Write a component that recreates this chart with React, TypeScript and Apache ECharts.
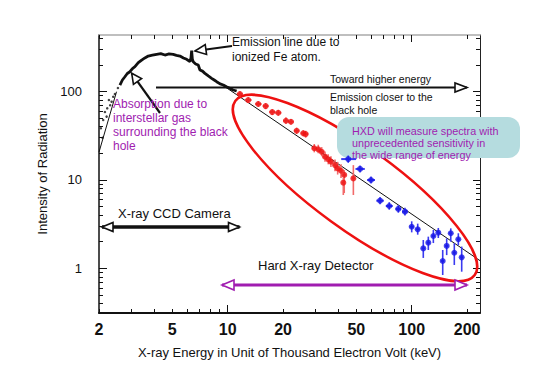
import React, { useEffect, useRef } from 'react';
import * as echarts from 'echarts';

// ---- axis ticks / labels ----
const xLabelValues = [2, 5, 10, 20, 50, 100, 200];
const xMinorTicks = [2, 3, 4, 5, 6, 7, 8, 9, 20, 30, 40, 50, 60, 70, 80, 90, 200];
const xMajorTicks = [10, 100];
const yLabelValues = [1, 10, 100];
const yMinorTicks = [0.4, 0.5, 0.6, 0.7, 0.8, 0.9, 2, 3, 4, 5, 6, 7, 8, 9, 20, 30, 40, 50, 60, 70, 80, 90, 200, 300, 400];
const yMajorTicks = [1, 10, 100];

// ---- CCD spectrum (keV, intensity) ----
const ccdCurve = [
  [2.598, 118.4], [2.68, 135], [2.765, 147], [2.85, 160], [2.944, 167.5], [3.04, 182], [3.135, 190.8],
  [3.27, 212], [3.41, 227], [3.55, 240], [3.703, 252], [3.9, 258], [4.113, 263.5], [4.33, 268],
  [4.563, 258.8], [4.8, 266], [5.062, 263.5], [5.27, 257], [5.506, 252], [5.75, 240], [5.988, 231.4],
  [6.239, 217.3], [6.32, 240], [6.373, 291], [6.43, 232], [6.502, 217], [6.7, 205], [6.92, 199.4],
  [7.07, 175], [7.3, 170], [7.525, 160.6], [7.85, 150], [8.185, 141.1], [8.45, 135], [8.714, 129.1],
  [9.1, 122], [9.465, 118.4], [9.85, 113], [10.29, 108.7], [10.7, 104], [11.19, 101.3],
];
const ccdDots = [
  [2.048, 38.4], [2.09, 30], [2.108, 47.6], [2.154, 58.6], [2.2, 52], [2.217, 64.6], [2.264, 80.1],
  [2.3, 70], [2.342, 76.7], [2.389, 87.3], [2.44, 93.7], [2.534, 109.6],
];
// ---- model lines ----
const modelLeft = [[2, 20.6], [2.49, 99.5]];
const modelPowerLaw = [[9.67, 113.3], [235, 1.22]];

// ---- HXD PIN points: [keV, intensity, xLow, xHigh, yLow, yHigh] ----
const redPoints = [
  [11.66, 93.7, 11.2, 12.1, 87, 101],
  [12.94, 80.1, 12.4, 13.5, 74, 86],
  [14.67, 72.2, 14.1, 15.3, 67, 78],
  [16.09, 68.5, 15.5, 16.7, 63, 74],
  [17.47, 58.6, 16.8, 18.2, 54, 63],
  [18.84, 57.5, 18.1, 19.6, 53, 62],
  [20.74, 46.7, 20.0, 21.5, 43, 51],
  [22.08, 45.5, 21.3, 22.9, 42, 49],
  [23.71, 36.0, 22.9, 24.6, 33, 39],
  [25.76, 33.7, 24.9, 26.7, 31, 36.5],
  [26.54, 33.0, 25.7, 27.4, 30, 36],
  [29.56, 22.8, 28.7, 30.5, 20.5, 25.5],
  [31.07, 22.2, 30.2, 32.0, 20, 25],
  [32.43, 20.8, 31.5, 33.4, 18.5, 23.5],
  [33.8, 18.3, 32.9, 34.7, 16, 21],
  [35.2, 17.1, 34.3, 36.1, 15, 19.5],
  [36.4, 16.1, 35.5, 37.3, 14, 18.5],
  [38.3, 14.7, 37.4, 39.2, 12.5, 17],
  [39.6, 13.5, 38.7, 40.5, 11.5, 16],
  [41.3, 12.7, 40.4, 42.2, 10.5, 15],
  [43.0, 11.4, 42.1, 43.9, 7.1, 12.9],
  [48.2, 10.4, 47.2, 49.2, 6.75, 14.7],
  [42.5, 9.3, 41.6, 43.4, 6.75, 10.5],
];
// ---- HXD GSO points ----
const bluePoints = [
  [45.2, 17.2, 41.4, 49.9, 15.6, 18.9],
  [52.4, 13.3, 49.5, 55.6, 12.1, 14.6],
  [60.1, 9.97, 57.2, 63.2, 9.1, 10.9],
  [67.3, 5.82, 64.2, 70.6, 5.3, 6.4],
  [75.5, 5.07, 72.3, 78.9, 4.6, 5.6],
  [84.6, 4.69, 81.6, 87.7, 4.25, 5.2],
  [91.9, 4.37, 88.7, 95.3, 3.95, 4.85],
  [100, 2.95, 97.5, 102.6, 2.55, 3.4],
  [107.8, 2.76, 105.1, 110.6, 2.4, 3.2],
  [115.6, 1.68, 113.2, 118.1, 1.31, 2.09],
  [123.1, 1.95, 120.6, 125.7, 1.61, 2.28],
  [131.1, 2.32, 128.4, 133.9, 1.93, 2.71],
  [139.5, 2.53, 136.6, 142.5, 2.2, 2.86],
  [147.4, 1.21, 144.6, 150.3, 0.84, 1.61],
  [154.9, 1.79, 151.9, 158.0, 1.41, 2.18],
  [163, 2.49, 159.8, 166.2, 2.0, 2.83],
  [170.4, 1.5, 167.1, 173.8, 1.09, 1.92],
  [179.2, 2.13, 175.7, 182.8, 1.83, 2.49],
  [186.9, 1.33, 183.3, 190.6, 0.915, 1.76],
];

const FONT = '"Liberation Sans", Arial, sans-serif';
const PURPLE = '#a01cb0';
const RED = '#ee1111';
const BLUE = '#1515e6';

function arrowHead(tx: number, ty: number, fx: number, fy: number, len: number, half: number, color: string, lw: number, z: number) {
  const dx = tx - fx, dy = ty - fy;
  const d = Math.sqrt(dx * dx + dy * dy);
  const ux = dx / d, uy = dy / d;
  const bx = tx - ux * len, by = ty - uy * len;
  const px = -uy, py = ux;
  return {
    type: 'polygon', z, silent: true,
    shape: { points: [[tx, ty], [bx + px * half, by + py * half], [bx - px * half, by - py * half]] },
    style: { fill: '#ffffff', stroke: color, lineWidth: lw },
  };
}

function arrow(x1: number, y1: number, x2: number, y2: number, color: string, lw: number, len: number, half: number, both: boolean) {
  const els: any[] = [
    { type: 'line', z: 20, silent: true, shape: { x1, y1, x2, y2 }, style: { stroke: color, lineWidth: lw } },
    arrowHead(x2, y2, x1, y1, len, half, color, 1.6, 21),
  ];
  if (both) els.push(arrowHead(x1, y1, x2, y2, len, half, color, 1.6, 21));
  return els;
}

function txt(text: string, x: number, y: number, size: number, color: string) {
  return {
    type: 'text', z: 22, silent: true, x, y,
    style: { text, fill: color, font: `${size}px ${FONT}`, textAlign: 'left', textVerticalAlign: 'middle' },
  };
}

function errorBars(color: string) {
  return (params: any, api: any) => {
    const x = api.value(0), y = api.value(1);
    const p = api.coord([x, y]);
    const xl = api.coord([api.value(2), y]);
    const xh = api.coord([api.value(3), y]);
    const yl = api.coord([x, api.value(4)]);
    const yh = api.coord([x, api.value(5)]);
    return {
      type: 'group',
      children: [
        { type: 'line', shape: { x1: xl[0], y1: p[1], x2: xh[0], y2: p[1] }, style: { stroke: color, lineWidth: 2 } },
        { type: 'line', shape: { x1: p[0], y1: yl[1], x2: p[0], y2: yh[1] }, style: { stroke: color, lineWidth: 1.6 } },
      ],
    };
  };
}

const X_MIN = 2, X_MAX = 235, Y_MIN = 0.312, Y_MAX = 436;

function xAx(position: string, ticks: number[], len: number, extra: any) {
  return {
    type: 'log', min: X_MIN, max: X_MAX, position,
    axisLine: { show: false },
    axisTick: { show: true, inside: true, length: len, customValues: ticks, lineStyle: { color: '#111', width: 1 } },
    axisLabel: { show: false },
    splitLine: { show: false },
    ...extra,
  };
}
function yAx(position: string, ticks: number[], len: number, extra: any) {
  return {
    type: 'log', min: Y_MIN, max: Y_MAX, position,
    axisLine: { show: false },
    axisTick: { show: true, inside: true, length: len, customValues: ticks, lineStyle: { color: '#111', width: 1 } },
    axisLabel: { show: false },
    splitLine: { show: false },
    ...extra,
  };
}

export default function App() {
  const ref = useRef<HTMLDivElement>(null);
  useEffect(() => {
    if (!ref.current) return;
    const chart = echarts.init(ref.current, null, { renderer: 'svg' });
    const graphic: any[] = [
      {
        type: 'ellipse', z: 15, silent: true, x: 355, y: 188, rotation: -0.628,
        shape: { cx: 0, cy: 0, rx: 148, ry: 41 },
        style: { fill: 'none', stroke: RED, lineWidth: 2.5 },
      },
      {
        type: 'rect', z: 16, silent: true,
        shape: { x: 337, y: 117, width: 183, height: 41, r: 12 },
        style: { fill: '#b5dcdf' },
      },
      ...arrow(156, 87.5, 467, 87.5, '#111', 2, 12, 4.5, false),
      ...arrow(232, 46, 195, 51, '#111', 2, 11, 5, false),
      ...arrow(160, 113, 131.7, 73.3, '#111', 2.2, 10, 5, false),
      ...arrow(102, 227, 239.5, 227, '#111', 3.5, 11, 4.5, true),
      ...arrow(222, 285, 467, 285, PURPLE, 3, 12, 5, true),
      txt('Emission line due to', 232, 42, 12, '#111'),
      txt('ionized Fe atom.', 232, 57, 12, '#111'),
      txt('Toward higher energy', 330, 79, 10.5, '#111'),
      txt('Emission closer to the', 330, 97.3, 10.5, '#111'),
      txt('black hole', 330, 110, 10.5, '#111'),
      txt('Absorption due to', 113, 104, 12, PURPLE),
      txt('interstellar gas', 113, 118.3, 12, PURPLE),
      txt('surrounding the black', 113, 132.3, 12, PURPLE),
      txt('hole', 113, 146, 12, PURPLE),
      txt('HXD will measure spectra with', 352, 130.7, 10.8, PURPLE),
      txt('unprecedented sensitivity in', 352, 143.3, 10.8, PURPLE),
      txt('the wide range of energy', 352, 155, 10.8, PURPLE),
      txt('X-ray CCD Camera', 118, 213, 13, '#111'),
      txt('Hard X-ray Detector', 258, 265, 13, '#111'),
    ];

    chart.setOption({
      animation: false,
      backgroundColor: '#ffffff',
      textStyle: { fontFamily: FONT },
      grid: { left: 99, right: 63, top: 35, bottom: 77, containLabel: false },
      xAxis: [
        xAx('bottom', xMinorTicks, 4, {
          axisLine: { show: true, lineStyle: { color: '#111', width: 2 } },
          axisLabel: {
            show: true, customValues: xLabelValues, margin: 8, fontSize: 16, fontWeight: 'bold', color: '#111',
            fontFamily: FONT, formatter: (v: number) => String(Math.round(v)),
          },
          name: 'X-ray Energy in Unit of Thousand Electron Volt (keV)',
          nameLocation: 'middle', nameGap: 33,
          nameTextStyle: { fontSize: 13, color: '#111', fontFamily: FONT },
        }),
        xAx('bottom', xMajorTicks, 8, {}),
        xAx('top', xMinorTicks, 4, { axisLine: { show: true, lineStyle: { color: '#aaaaaa', width: 1.5 } } }),
        xAx('top', xMajorTicks, 7, {}),
      ],
      yAxis: [
        yAx('left', yMinorTicks, 4, {
          axisLine: { show: true, lineStyle: { color: '#111', width: 1.5 } },
          axisLabel: {
            show: true, customValues: yLabelValues, margin: 17, fontSize: 13, color: '#111',
            fontFamily: FONT, formatter: (v: number) => String(Math.round(v)),
          },
          name: 'Intensity of Radiation',
          nameLocation: 'middle', nameGap: 41,
          nameTextStyle: { fontSize: 13, color: '#111', fontFamily: FONT },
        }),
        yAx('left', yMajorTicks, 8, {}),
        yAx('right', yMinorTicks, 4, { axisLine: { show: true, lineStyle: { color: '#222', width: 1 } } }),
        yAx('right', yMajorTicks, 7, {}),
      ],
      series: [
        {
          type: 'line', data: modelLeft, showSymbol: false, silent: true, z: 3,
          lineStyle: { color: '#111', width: 1 },
        },
        {
          type: 'line', data: modelPowerLaw, showSymbol: false, silent: true, z: 3,
          lineStyle: { color: '#111', width: 1 },
        },
        {
          type: 'scatter', data: ccdDots, symbolSize: 2.5, silent: true, z: 3,
          itemStyle: { color: '#111' },
        },
        {
          type: 'line', data: ccdCurve, showSymbol: false, silent: true, z: 4,
          lineStyle: { color: '#111', width: 2.8 },
        },
        {
          type: 'custom', data: redPoints, renderItem: errorBars('#f26a6a'), silent: true, z: 30,
          encode: { x: 0, y: 1 },
        },
        {
          type: 'scatter', data: redPoints, symbolSize: 6, silent: true, z: 31,
          encode: { x: 0, y: 1 }, itemStyle: { color: RED },
        },
        {
          type: 'custom', data: bluePoints, renderItem: errorBars('#3a3af0'), silent: true, z: 30,
          encode: { x: 0, y: 1 },
        },
        {
          type: 'scatter', data: bluePoints, symbolSize: 6, silent: true, z: 31,
          encode: { x: 0, y: 1 }, itemStyle: { color: BLUE },
        },
      ],
      graphic,
    });
    return () => chart.dispose();
  }, []);
  return (
    <div
      ref={ref}
      style={{ position: 'fixed', left: 0, top: 0, width: 543, height: 390, background: '#fff' }}
    />
  );
}
